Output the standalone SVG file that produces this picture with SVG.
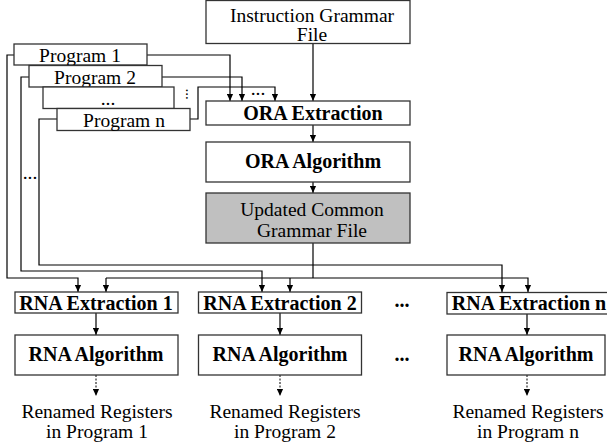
<svg xmlns="http://www.w3.org/2000/svg" width="607" height="445" viewBox="0 0 607 445">
<style>
text{font-family:"Liberation Serif","Times New Roman",serif;font-size:19.5px;fill:#000;text-anchor:middle}
.b{font-weight:bold;font-size:20px}
.box{fill:#fff;stroke:#333;stroke-width:1.3}
.gray{fill:#c0c0c0;stroke:#333;stroke-width:1.3}
.ln{fill:none;stroke:#000;stroke-width:1.2}
.dot{fill:none;stroke:#000;stroke-width:1;stroke-dasharray:2 1.5}
</style>
<defs>
<marker id="ah" viewBox="0 0 8 8" refX="8" refY="4" markerWidth="7" markerHeight="7" orient="auto" markerUnits="userSpaceOnUse"><path d="M0,0.5 L8,4 L0,7.5 z" fill="#000"/></marker>
</defs>
<rect width="607" height="445" fill="#fff"/>

<g id="connectors">
<path class="ln" d="M313,43 V101" marker-end="url(#ah)"/>
<path class="ln" d="M147,55 H230 V101" marker-end="url(#ah)"/>
<path class="ln" d="M162,77 H242 V101" marker-end="url(#ah)"/>
<path class="ln" d="M190,119 H198 V87 H275 V101" marker-end="url(#ah)"/>
<text x="94" y="-186" transform="rotate(90)" style="font-size:15px">...</text>
<text x="258" y="95">...</text>
<path class="ln" d="M313,125 V142" marker-end="url(#ah)"/>
<path class="ln" d="M313,182 V193" marker-end="url(#ah)"/>
<path class="ln" d="M14,55 H7 V278 H78 V292" marker-end="url(#ah)"/>
<path class="ln" d="M29,77 H21 V271 H262 V292" marker-end="url(#ah)"/>
<path class="ln" d="M57,119 H39 V265 H502 V292" marker-end="url(#ah)"/>
<text x="30" y="179">...</text>
<path class="ln" d="M313,243 V278"/>
<path class="ln" d="M106,278 H528 V292" marker-end="url(#ah)"/>
<path class="ln" d="M106,278 V292" marker-end="url(#ah)"/>
<path class="ln" d="M290,278 V292" marker-end="url(#ah)"/>
<path class="ln" d="M96,313 V335" marker-end="url(#ah)"/>
<path class="ln" d="M280,313 V335" marker-end="url(#ah)"/>
<path class="ln" d="M527,314 V335" marker-end="url(#ah)"/>
<path class="dot" d="M96,375 V396" marker-end="url(#ah)"/>
<path class="dot" d="M280,375 V396" marker-end="url(#ah)"/>
<path class="dot" d="M527,375 V396" marker-end="url(#ah)"/>
</g>

<g id="instruction-grammar"><rect class="box" x="206" y="0.5" width="204" height="43"/><text x="312" y="22">Instruction Grammar</text><text x="312" y="41">File</text></g>
<g id="program-1"><rect class="box" x="14" y="44" width="133" height="21"/><text x="80" y="62">Program 1</text></g>
<g id="program-2"><rect class="box" x="29" y="65.5" width="133" height="21.5"/><text x="95" y="84">Program 2</text></g>
<g id="program-dots"><rect class="box" x="43" y="87" width="131" height="21.5"/><text x="108" y="105">...</text></g>
<g id="program-n"><rect class="box" x="57" y="108.5" width="133" height="22"/><text x="124" y="127">Program n</text></g>
<g id="ora-extraction"><rect class="box" x="206" y="101" width="204" height="24"/><text class="b" x="313" y="120">ORA Extraction</text></g>
<g id="ora-algorithm"><rect class="box" x="206" y="142" width="204" height="40"/><text class="b" x="313" y="168">ORA Algorithm</text></g>
<g id="updated-grammar"><rect class="gray" x="206" y="193" width="204" height="50"/><text x="312" y="216">Updated Common</text><text x="312" y="237">Grammar File</text></g>

<g id="rna-extraction-1"><rect class="box" x="15" y="292" width="163" height="21"/><text class="b" x="96" y="310">RNA Extraction 1</text></g>
<g id="rna-extraction-2"><rect class="box" x="198.5" y="292" width="163" height="21"/><text class="b" x="280" y="310">RNA Extraction 2</text></g>
<g id="rna-extraction-n"><rect class="box" x="447" y="292.5" width="165" height="21.5"/><text class="b" x="529" y="310">RNA Extraction n</text></g>
<text class="b" x="402" y="307">...</text>
<g id="rna-algorithm-1"><rect class="box" x="15" y="335" width="163" height="40"/><text class="b" x="96" y="361">RNA Algorithm</text></g>
<g id="rna-algorithm-2"><rect class="box" x="198.5" y="335" width="163" height="40"/><text class="b" x="280" y="361">RNA Algorithm</text></g>
<g id="rna-algorithm-n"><rect class="box" x="447" y="335" width="158" height="40"/><text class="b" x="526" y="361">RNA Algorithm</text></g>
<text class="b" x="402" y="361">...</text>
<g id="renamed-1"><text x="97" y="418">Renamed Registers</text><text x="97" y="438">in Program 1</text></g>
<g id="renamed-2"><text x="285" y="418">Renamed Registers</text><text x="285" y="438">in Program 2</text></g>
<g id="renamed-n"><text x="528" y="418">Renamed Registers</text><text x="528" y="438">in Program n</text></g>
</svg>
